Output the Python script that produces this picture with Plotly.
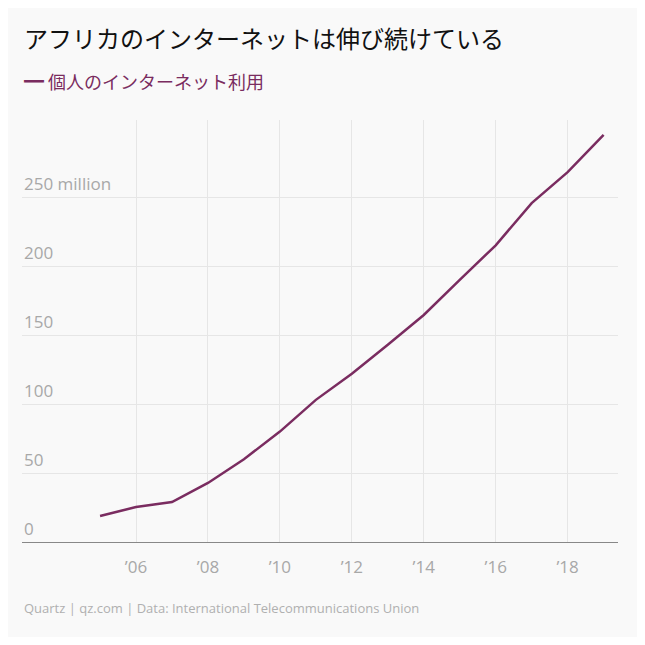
import plotly.graph_objects as go

years = list(range(2005, 2020))
users = [18.8, 25.4, 29, 42.8, 60, 80, 103, 122, 143, 164.5, 190, 215, 245.6, 268, 295]
xtick_vals = [2006, 2008, 2010, 2012, 2014, 2016, 2018]
xtick_text = ["’06", "’08", "’10", "’12", "’14", "’16", "’18"]
ytick_vals = [0, 50, 100, 150, 200, 250]
ytick_text = ["0", "50", "100", "150", "200", "250 million"]

color = "#7a2c60"
bg = "#f9f9f9"
font = "Noto Sans CJK JP"
numfont = "Open Sans"

fig = go.Figure(go.Scatter(x=years, y=users, mode="lines",
                           line=dict(color=color, width=2.5), hoverinfo="skip"))

annots = [dict(x=0, xref="paper", y=v, yref="y", text=t, showarrow=False,
               xanchor="left", yanchor="bottom", yshift=0,
               font=dict(size=17, color="#a8a8a8", family=numfont))
          for v, t in zip(ytick_vals, ytick_text)]
annots += [
    dict(x=0, xref="paper", y=1, yref="paper", yshift=83,
         text="アフリカのインターネットは伸び続けている", showarrow=False,
         xanchor="left", yanchor="middle", font=dict(size=24, color="#111", family=font)),
    dict(x=0, xref="paper", y=1, yref="paper", yshift=40,
         text="<span style='font-size:20px'>━</span> 個人のインターネット利用", showarrow=False,
         xanchor="left", yanchor="middle", font=dict(size=18, color=color, family=font)),
    dict(x=0, xref="paper", y=0, yref="paper", yshift=-66,
         text="Quartz | qz.com | Data: International Telecommunications Union", showarrow=False,
         xanchor="left", yanchor="middle", font=dict(size=13, color="#b0b0b0", family=numfont)),
]

fig.update_layout(
    width=629, height=629, paper_bgcolor=bg, plot_bgcolor=bg,
    margin=dict(l=14, r=19, t=112, b=95),
    showlegend=False,
    xaxis=dict(range=[2002.83, 2019.4], tickvals=xtick_vals, ticktext=xtick_text,
               showgrid=True, gridcolor="#e6e6e6", zeroline=False,
               showline=True, linecolor="#888", linewidth=1, ticklabelstandoff=10,
               tickfont=dict(size=17, color="#a8a8a8", family=numfont), ticks=""),
    yaxis=dict(range=[0, 305.8], tickvals=ytick_vals, showticklabels=False,
               showgrid=True, gridcolor="#e6e6e6", zeroline=False),
    annotations=annots,
)
fig.write_html("out.html")
